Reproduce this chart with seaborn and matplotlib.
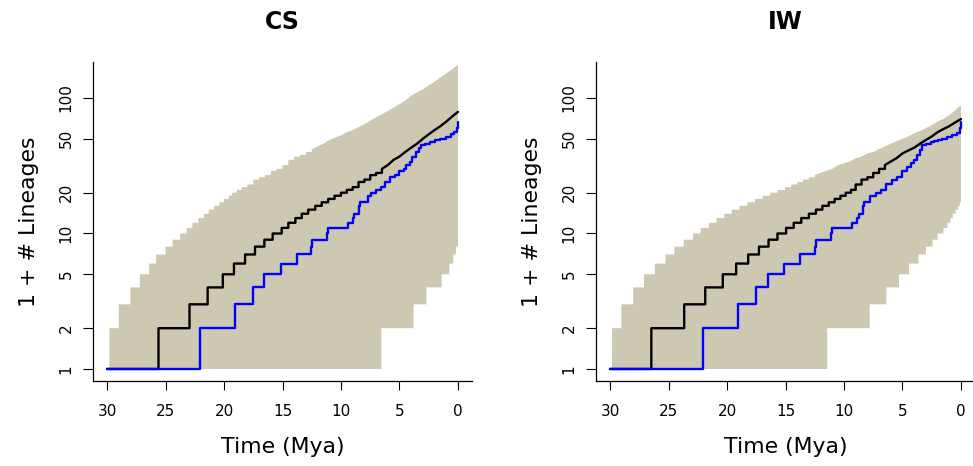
import matplotlib
matplotlib.use("Agg")
import matplotlib.pyplot as plt
import seaborn as sns

# ---- CS panel: envelope change points (time in Mya, 1 + # lineages) ----
cs_upper_t = [29.8, 29.0, 28.0, 27.2, 26.4, 25.8, 25.0, 24.4, 23.75, 23.2, 22.7, 22.2, 21.7, 21.3,
              20.85, 20.4, 20.0, 19.6, 19.3, 18.9, 18.5, 18.0, 17.5, 17.0, 16.5, 16.0, 15.5, 15.0,
              14.5, 14.0, 13.5, 13.0, 12.5, 12.0, 11.5, 11.0, 10.5, 10.0, 9.5, 9.0, 8.5, 8.0, 7.5,
              7.0, 6.5, 6.0, 5.5, 5.0, 4.5, 4.0, 3.5, 3.0, 2.5, 2.0, 1.5, 1.0, 0.5, 0.25, 0.0]
cs_upper_n = [2, 3, 4, 5, 6, 7, 8, 9, 10, 11, 12, 13, 14, 15, 16, 17, 18, 19, 20, 21,
              22, 23, 25, 26, 27, 29, 30, 32, 35, 37, 38, 40, 42, 44, 46, 49, 51, 53, 56, 58,
              61, 64, 68, 72, 76, 80, 85, 90, 96, 104, 110, 116, 124, 132, 142, 152, 163, 170, 175]
cs_lower_t = [29.8, 6.55, 3.8, 2.7, 1.4, 0.74, 0.4, 0.17, 0.0]
cs_lower_n = [1, 2, 3, 4, 5, 6, 7, 8, 8]
# expected (black) and observed (blue) lineage-through-time curves
cs_exp_t = [30.0, 25.6, 22.95, 21.4, 20.1, 19.15, 18.2, 17.35, 16.55, 15.84, 15.07, 14.5, 13.9,
            13.35, 12.8, 12.2, 11.65, 11.1, 10.55, 10.0, 9.5, 9.0, 8.5, 8.0, 7.5, 7.0, 6.5, 6.0,
            5.5, 5.0, 4.5, 4.0, 3.5, 3.0, 2.5, 2.0, 1.5, 1.0, 0.5, 0.25, 0.0]
cs_exp_n = [1, 2, 3, 4, 5, 6, 7, 8, 9, 10, 11, 12, 13, 14, 15, 16, 17, 18, 19, 20,
            21, 22, 24, 25, 27, 28, 30, 32, 35, 37, 40, 43, 46, 50, 54, 58, 62, 67, 73, 76, 79]
cs_obs_t = [30.0, 22.05, 19.06, 17.55, 16.58, 15.16, 13.75, 12.6, 12.5, 11.2, 11.1, 9.4, 9.0, 8.9,
            8.45, 8.4, 7.7, 7.4, 7.0, 6.6, 6.2, 5.8, 5.4, 5.0, 4.6, 4.4, 4.1, 3.9, 3.6, 3.3, 3.2,
            2.8, 2.4, 2.0, 1.5, 1.0, 0.6, 0.3, 0.05, 0.0]
cs_obs_n = [1, 2, 3, 4, 5, 6, 7, 8, 9, 10, 11, 12, 13, 14, 16, 17, 19, 20, 21, 22,
            24, 26, 27, 29, 30, 32, 34, 37, 40, 43, 45, 46, 47, 49, 50, 52, 54, 56, 60, 66]

# ---- IW panel ----
iw_upper_t = [29.83, 29.03, 28.03, 27.1, 26.17, 25.26, 24.5, 23.7, 22.9, 22.26, 21.54, 20.9, 20.23,
              19.6, 18.94, 18.26, 17.6, 16.95, 16.3, 15.69, 15.03, 14.5, 14.0, 13.5, 13.0, 12.5,
              12.0, 11.5, 11.0, 10.5, 10.0, 9.5, 9.0, 8.5, 8.0, 7.5, 7.0, 6.5, 6.0, 5.5, 5.0, 4.5,
              4.0, 3.5, 3.0, 2.5, 2.0, 1.5, 1.0, 0.5, 0.25, 0.0]
iw_upper_n = [2, 3, 4, 5, 6, 7, 8, 9, 10, 11, 12, 13, 14, 15, 16, 17, 18, 19, 20, 21, 22,
              23, 24, 25, 26, 27, 28, 29, 30, 32, 33, 34, 36, 37, 39, 40, 42, 44, 46, 48, 50,
              52, 55, 57, 60, 63, 67, 70, 75, 81, 85, 88]
iw_lower_t = [29.83, 11.43, 7.8, 6.38, 5.3, 4.44, 3.64, 3.0, 2.43, 2.0, 1.5, 1.15, 0.9, 0.7,
              0.45, 0.25, 0.1, 0.0]
iw_lower_n = [1, 2, 3, 4, 5, 6, 7, 8, 9, 10, 11, 12, 13, 14, 15, 16, 17, 17]
iw_exp_t = [30.0, 26.47, 23.66, 21.86, 20.36, 19.22, 18.19, 17.27, 16.45, 15.69, 14.95, 14.3,
            13.65, 13.0, 12.4, 11.85, 11.3, 10.8, 10.3, 9.85, 9.4, 9.0, 8.5, 8.0, 7.5, 7.0, 6.5,
            6.0, 5.5, 5.0, 4.5, 4.0, 3.5, 3.0, 2.5, 2.0, 1.5, 1.0, 0.5, 0.0]
iw_exp_n = [1, 2, 3, 4, 5, 6, 7, 8, 9, 10, 11, 12, 13, 14, 15, 16, 17, 18, 19, 20, 21,
            23, 25, 26, 28, 30, 32, 34, 36, 39, 41, 43, 46, 49, 52, 56, 59, 62, 66, 70]
iw_obs_t = [30.0, 22.06, 19.06, 17.5, 16.5, 15.15, 13.72, 12.45, 12.37, 11.15, 11.06, 9.3, 8.9,
            8.72, 8.35, 8.3, 7.78, 7.3, 6.86, 6.4, 5.86, 5.43, 5.0, 4.6, 4.3, 4.0, 3.72, 3.5,
            3.3, 3.0, 2.6, 2.3, 2.0, 1.6, 1.16, 0.8, 0.3, 0.1, 0.0]
iw_obs_n = [1, 2, 3, 4, 5, 6, 7, 8, 9, 10, 11, 12, 13, 14, 16, 17, 19, 20, 21, 23,
            25, 26, 29, 31, 33, 35, 38, 41, 45, 46, 47, 48, 49, 50, 52, 53, 55, 60, 67]

titles = ["CS", "IW"]
x_ticks = [30, 25, 20, 15, 10, 5, 0]
y_ticks = [1, 2, 5, 10, 20, 50, 100]


def stair(t, n, smooth_below=None):
    """Turn change points into a step path; below `smooth_below` Mya the
    steps are so small that the points are just joined."""
    xs, ys = [], []
    for i in range(len(t)):
        xs.append(t[i])
        ys.append(n[i])
        if i + 1 < len(t) and (smooth_below is None or t[i + 1] > smooth_below):
            xs.append(t[i + 1])
            ys.append(n[i])
    return xs, ys


sns.set_style("ticks")
plt.rcParams["font.family"] = ["DejaVu Sans"]
plt.rcParams["text.color"] = "black"
plt.rcParams["axes.labelcolor"] = "black"
plt.rcParams["xtick.color"] = "black"
plt.rcParams["ytick.color"] = "black"

fig = plt.figure(figsize=(9.73, 4.66), dpi=100)
ax_cs = fig.add_axes([93 / 973, 85 / 466, 379 / 973, 319 / 466])
ax_iw = fig.add_axes([596 / 973, 85 / 466, 379 / 973, 319 / 466])

panels = [
    (ax_cs, cs_upper_t, cs_upper_n, cs_lower_t, cs_lower_n, cs_exp_t, cs_exp_n, cs_obs_t, cs_obs_n),
    (ax_iw, iw_upper_t, iw_upper_n, iw_lower_t, iw_lower_n, iw_exp_t, iw_exp_n, iw_obs_t, iw_obs_n),
]

for (ax, ut, un, lt, ln, et, en, ot, on), title in zip(panels, titles):
    # envelope polygon: upper edge forward in time, lower edge back again
    ux, uy = stair(ut, un, smooth_below=12)
    lx, ly = stair(lt, ln)
    ax.fill(ux + lx[::-1], uy + ly[::-1], color="#CDC8B1", lw=0, zorder=1)

    ex, ey = stair(et, en, smooth_below=6)
    ox, oy = stair(ot, on)
    sns.lineplot(x=ex, y=ey, ax=ax, sort=False, estimator=None,
                 color="black", lw=1.7, zorder=3)
    sns.lineplot(x=ox, y=oy, ax=ax, sort=False, estimator=None,
                 color="#0000FF", lw=1.7, zorder=4)

    ax.set_yscale("log")
    ax.set_xlim(31.2, -1.2)
    ax.set_ylim(0.815, 184.5)
    ax.set_xticks(x_ticks)
    ax.set_xticklabels([str(v) for v in x_ticks], fontsize=11)
    ax.set_yticks(y_ticks)
    ax.set_yticklabels([str(v) for v in y_ticks], fontsize=11, rotation=90, va="center")
    ax.minorticks_off()
    ax.tick_params(axis="x", direction="out", length=6.5, width=0.8, color="black", pad=10)
    ax.tick_params(axis="y", direction="out", length=7, width=0.8, color="black", pad=7)
    for side in ["left", "bottom"]:
        ax.spines[side].set_color("black")
        ax.spines[side].set_linewidth(0.9)
    sns.despine(ax=ax)

    ax.set_xlabel("Time (Mya)", fontsize=15.8, va="center")
    ax.xaxis.set_label_coords(0.5, -0.207)
    ax.set_ylabel("1 + # Lineages", fontsize=15.8, va="center")
    ax.yaxis.set_label_coords(-0.17, 0.5)
    ax.set_title(title, fontsize=17, fontweight="bold", y=1.125, pad=0, va="center")

fig.savefig("out.png", dpi=100)
